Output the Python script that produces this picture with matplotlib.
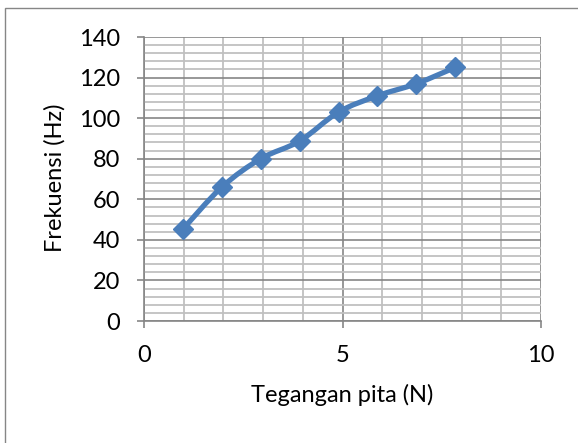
import numpy as np
import matplotlib
matplotlib.use("Agg")
import matplotlib.pyplot as plt
from matplotlib.path import Path
from matplotlib.patches import PathPatch, Rectangle

tegangan = [0.98, 1.96, 2.94, 3.92, 4.90, 5.88, 6.86, 7.84]
frekuensi = [45.3, 66.0, 80.0, 88.7, 103.0, 111.0, 117.0, 125.0]
x_ticks = [0, 5, 10]
y_ticks = [0, 20, 40, 60, 80, 100, 120, 140]
x_label = "Tegangan pita (N)"
y_label = "Frekuensi (Hz)"

plt.rcParams['font.family'] = ['Lato', 'DejaVu Sans']

fig = plt.figure(figsize=(5.78, 4.43), dpi=100)
ax = fig.add_axes([144/578, 1-321/443, (541-144)/578, (321-37)/443])

# outer chart border
fig.patches.append(Rectangle((5/578, -0.1), 1.2, 1-8/443+0.1, transform=fig.transFigure,
                             fill=False, edgecolor='#868686', linewidth=1.0, zorder=0))

ax.set_xlim(0, 10)
ax.set_ylim(0, 140)
ax.set_xticks(x_ticks)
ax.set_yticks(y_ticks)
ax.set_xticks(np.arange(0, 11, 1), minor=True)
ax.set_yticks(np.arange(0, 141, 4), minor=True)
ax.grid(which='minor', color='#c0c0c0', linewidth=1.3)
ax.grid(which='major', color='#868686', linewidth=1.2)
ax.set_axisbelow(True)
for s in ['top', 'right']:
    ax.spines[s].set_visible(False)
for s in ['left', 'bottom']:
    ax.spines[s].set_color('#868686')
    ax.spines[s].set_linewidth(1.2)
ax.tick_params(which='major', length=5, width=1.2, color='#868686', labelsize=17, pad=12)
ax.tick_params(which='minor', length=0)

# smoothed line (Bezier through the data points)
xs = np.array(tegangan); ys = np.array(frekuensi)
n = len(xs)
verts = [(xs[0], ys[0])]
codes = [Path.MOVETO]
for i in range(n - 1):
    p0 = np.array([xs[max(i-1, 0)], ys[max(i-1, 0)]])
    p1 = np.array([xs[i], ys[i]])
    p2 = np.array([xs[i+1], ys[i+1]])
    p3 = np.array([xs[min(i+2, n-1)], ys[min(i+2, n-1)]])
    c1 = p1 + (p2 - p0) / 6
    c2 = p2 - (p3 - p1) / 6
    verts += [tuple(c1), tuple(c2), tuple(p2)]
    codes += [Path.CURVE4] * 3
ax.add_patch(PathPatch(Path(verts, codes), fill=False, edgecolor='#4a7ebb',
                       linewidth=3.8, capstyle='round', joinstyle='round', zorder=3))
ax.plot(tegangan, frekuensi, linestyle='none', marker='D', markersize=10.5,
        color='#4a7ebb', zorder=4)

fig.text(342/578, 1-395/443, x_label, ha='center', va='center', fontsize=17)
fig.text(55/578, 1-178/443, y_label, ha='center', va='center', rotation=90, fontsize=17)

fig.savefig('out.png', dpi=100)
